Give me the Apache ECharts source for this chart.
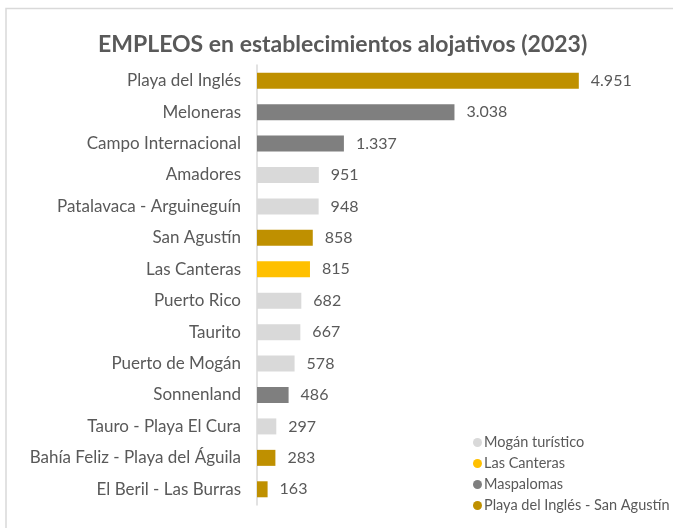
<!DOCTYPE html>
<html>
<head>
<meta charset="utf-8">
<script src="https://cdn.jsdelivr.net/npm/echarts@6/dist/echarts.min.js"></script>
<style>
  html, body { margin: 0; padding: 0; background: #fff; }
  #chart { width: 673px; height: 528px; }
</style>
</head>
<body>
<div id="chart"></div>
<script>
const categories = [
  'Playa del Inglés', 'Meloneras', 'Campo Internacional', 'Amadores',
  'Patalavaca - Arguineguín', 'San Agustín', 'Las Canteras', 'Puerto Rico',
  'Taurito', 'Puerto de Mogán', 'Sonnenland', 'Tauro - Playa El Cura',
  'Bahía Feliz - Playa del Águila', 'El Beril - Las Burras'
];
const values = [4951, 3038, 1337, 951, 948, 858, 815, 682, 667, 578, 486, 297, 283, 163];
const zones = [
  'Playa del Inglés - San Agustín', 'Maspalomas', 'Maspalomas', 'Mogán turístico',
  'Mogán turístico', 'Playa del Inglés - San Agustín', 'Las Canteras', 'Mogán turístico',
  'Mogán turístico', 'Mogán turístico', 'Maspalomas', 'Mogán turístico',
  'Playa del Inglés - San Agustín', 'Playa del Inglés - San Agustín'
];
const zoneNames = ['Mogán turístico', 'Las Canteras', 'Maspalomas', 'Playa del Inglés - San Agustín'];
const zoneColors = ['#D9D9D9', '#FFC000', '#7F7F7F', '#BF9000'];

const font = 'Lato, "Open Sans", sans-serif';
const fmt = v => v.toLocaleString('de-DE');

const chart = echarts.init(document.getElementById('chart'));

const series = zoneNames.map((name, i) => ({
  name: name,
  type: 'bar',
  stack: 'all',
  barWidth: 16,
  itemStyle: { color: zoneColors[i] },
  label: {
    show: true,
    position: 'right',
    distance: 12,
    color: '#595959',
    fontSize: 16,
    fontFamily: font,
    formatter: p => fmt(p.value)
  },
  data: values.map((v, j) => zones[j] === name ? v : '-')
}));

chart.setOption({
  animation: false,
  graphic: [{
    type: 'polyline',
    shape: { points: [[6, 528], [6, 8.5], [673, 8.5]] },
    style: { stroke: '#D9D9D9', lineWidth: 1.5, fill: null }
  }],
  title: {
    text: 'EMPLEOS en establecimientos alojativos (2023)',
    left: 93,
    top: 28,
    textStyle: { color: '#595959', fontSize: 23, fontWeight: 'bold', fontFamily: font }
  },
  legend: {
    data: zoneNames,
    orient: 'vertical',
    left: 468,
    top: 430,
    icon: 'circle',
    itemWidth: 9,
    itemHeight: 9,
    itemGap: 6,
    textStyle: { color: '#595959', fontSize: 14.5, fontFamily: font, padding: [0, 0, 0, -3] }
  },
  grid: { left: 257, right: 26, top: 65, bottom: 23, containLabel: false },
  xAxis: {
    type: 'value',
    min: 0,
    max: 6000,
    show: false
  },
  yAxis: {
    type: 'category',
    inverse: true,
    data: categories,
    axisLine: { lineStyle: { color: '#D9D9D9', width: 1.5 } },
    axisTick: { show: false },
    axisLabel: { color: '#595959', fontSize: 17, fontFamily: font, margin: 16 }
  },
  series: series
});
</script>
</body>
</html>
